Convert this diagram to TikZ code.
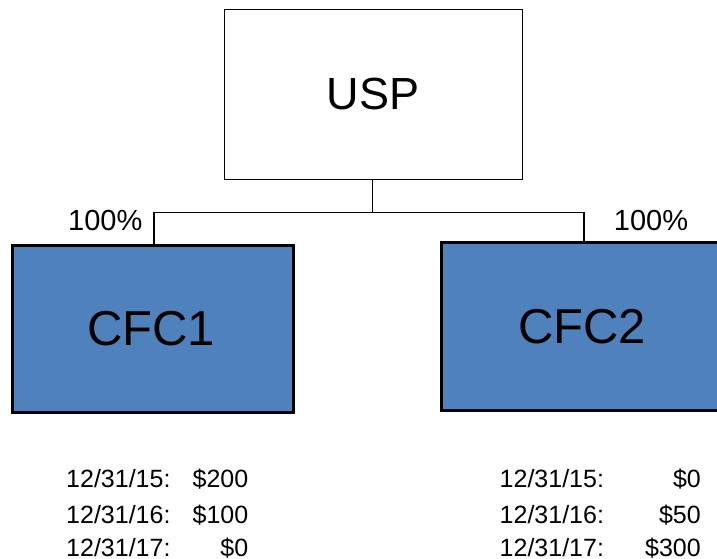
\documentclass[tikz,border=0pt]{standalone}
\usepackage{fontspec}
\setmainfont{Liberation Sans}
\definecolor{cfcblue}{HTML}{4F81BD}
\tikzset{
  parentbox/.style={draw=black, line width=1.2pt, fill=white, minimum width=298pt, minimum height=170pt, inner sep=0pt, font=\fontsize{45}{54}\selectfont},
  childbox/.style={draw=black, line width=3pt, fill=cfcblue, minimum width=280.6pt, minimum height=167.7pt, inner sep=0pt, font=\fontsize{49}{58}\selectfont},
  link/.style={draw=black, line width=1.1pt},
  share/.style={inner sep=0pt, anchor=base west, font=\fontsize{29}{35}\selectfont},
  datecell/.style={inner sep=0pt, anchor=base west, font=\fontsize{25}{30}\selectfont},
  valcell/.style={inner sep=0pt, anchor=base east, font=\fontsize{25}{30}\selectfont}
}
\begin{document}
\begin{tikzpicture}[x=1pt, y=-1pt]
\useasboundingbox (0,0) rectangle (717,558);
\clip (0,0) rectangle (717,558);

% ownership chart
\node[parentbox] (usp) at (373.2,94.3) {USP};
\node[childbox] (cfc1) at (153,328.9) {\hspace*{-4pt}CFC1};
\node[childbox] (cfc2) at (582,326.7) {CFC2};

\coordinate (bus) at (372.3,212.3);
\draw[link] (usp.south -| bus) -- (bus);
\draw[link] (bus) -| ([xshift=1pt]cfc1.north);
\draw[link] (bus) -| ([xshift=2pt]cfc2.north);

\node[share] (own1) at (68,230) {100\%};
\node[share] (own2) at (613.7,230) {100\%};

% year-end balances, CFC1
\node[datecell] (d11) at (66,487.3) {12/31/15:};
\node[datecell] (d12) at (66,523.3) {12/31/16:};
\node[datecell] (d13) at (66,556) {12/31/17:};
\node[valcell] (v11) at (248.5,487.3) {\$200};
\node[valcell] (v12) at (248.5,523.3) {\$100};
\node[valcell] (v13) at (248.5,556) {\$0};

% year-end balances, CFC2
\node[datecell] (d21) at (499.5,487.3) {12/31/15:};
\node[datecell] (d22) at (499.5,523.3) {12/31/16:};
\node[datecell] (d23) at (499.5,556) {12/31/17:};
\node[valcell] (v21) at (701,487.3) {\$0};
\node[valcell] (v22) at (701,523.3) {\$50};
\node[valcell] (v23) at (701,556) {\$300};
\end{tikzpicture}
\end{document}
